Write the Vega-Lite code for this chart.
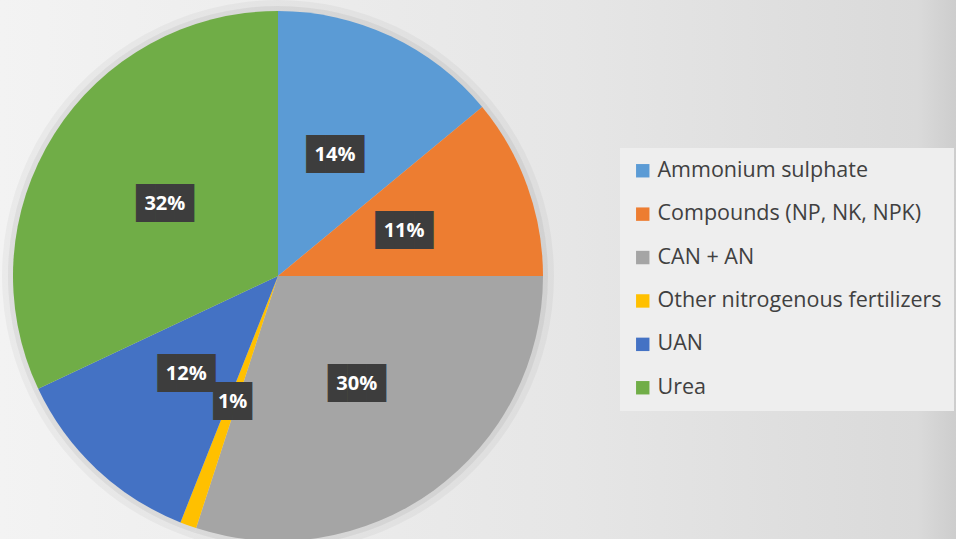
{
  "$schema": "https://vega.github.io/schema/vega-lite/v6.json",
  "width": 956,
  "height": 539,
  "autosize": "none",
  "padding": 0,
  "background": "#e8e8e8",
  "config": {"view": {"stroke": null}},
  "datasets": {
    "shares": [
      {"idx": 1, "type": "Ammonium sulphate", "share": 14, "label": "14%"},
      {"idx": 2, "type": "Compounds (NP, NK, NPK)", "share": 11, "label": "11%"},
      {"idx": 3, "type": "CAN + AN", "share": 30, "label": "30%"},
      {"idx": 4, "type": "Other nitrogenous fertilizers", "share": 1, "label": "1%"},
      {"idx": 5, "type": "UAN", "share": 12, "label": "12%"},
      {"idx": 6, "type": "Urea", "share": 32, "label": "32%"}
    ]
  },
  "layer": [
    {
      "data": {"values": [{}]},
      "mark": {
        "type": "rect", "x": 0, "x2": 956, "y": 0, "y2": 539,
        "fill": {"gradient": "linear", "x1": 0, "x2": 1, "y1": 0, "y2": 0,
          "stops": [
            {"offset": 0, "color": "#f3f3f3"},
            {"offset": 0.6, "color": "#e6e6e6"},
            {"offset": 0.96, "color": "#dadada"},
            {"offset": 1, "color": "#cdcdcd"}
          ]}
      },
      "encoding": {}
    },
    {
      "data": {"name": "shares"},
      "mark": {"type": "arc", "x": 278, "y": 276, "radius": 276, "fill": "#000000", "opacity": 0.035, "stroke": null},
      "encoding": {
        "theta": {"field": "share", "type": "quantitative", "stack": true},
        "order": {"field": "idx", "type": "quantitative"}
      }
    },
    {
      "data": {"name": "shares"},
      "mark": {"type": "arc", "x": 278, "y": 276, "radius": 270, "fill": "#000000", "opacity": 0.05, "stroke": null},
      "encoding": {
        "theta": {"field": "share", "type": "quantitative", "stack": true},
        "order": {"field": "idx", "type": "quantitative"}
      }
    },
    {
      "data": {"name": "shares"},
      "mark": {"type": "arc", "x": 278, "y": 276, "radius": 265, "stroke": null},
      "encoding": {
        "theta": {"field": "share", "type": "quantitative", "stack": true},
        "order": {"field": "idx", "type": "quantitative"},
        "color": {
          "field": "type", "type": "nominal",
          "scale": {
            "domain": ["Ammonium sulphate", "Compounds (NP, NK, NPK)", "CAN + AN", "Other nitrogenous fertilizers", "UAN", "Urea"],
            "range": ["#5B9BD5", "#ED7D31", "#A5A5A5", "#FFC000", "#4472C4", "#70AD47"]
          },
          "legend": {
            "title": null,
            "orient": "none",
            "legendX": 620,
            "legendY": 148,
            "fillColor": "#eeeeee",
            "padding": 12,
            "symbolType": "square",
            "symbolSize": 180,
            "symbolStrokeWidth": 0,
            "labelFont": "Open Sans",
            "labelFontSize": 21.5,
            "labelColor": "#404040",
            "labelLimit": 400,
            "labelOffset": 4,
            "rowPadding": 20.4
          }
        }
      }
    },
    {
      "data": {"name": "shares"},
      "mark": {"type": "text", "x": 278, "y": 276, "radius": 134, "font": "DejaVu Sans Mono", "fontSize": 32, "fill": "#3d3d3d", "align": "center", "baseline": "middle"},
      "encoding": {
        "theta": {"field": "share", "type": "quantitative", "stack": true},
        "order": {"field": "idx", "type": "quantitative"},
        "text": {"condition": {"test": "datum.share < 10", "value": "██"}, "value": "███"}
      }
    },
    {
      "data": {"name": "shares"},
      "mark": {"type": "text", "x": 278, "y": 276, "radius": 134, "font": "Open Sans", "fontSize": 20, "fontWeight": "bold", "fill": "#ffffff", "align": "center", "baseline": "middle"},
      "encoding": {
        "theta": {"field": "share", "type": "quantitative", "stack": true},
        "order": {"field": "idx", "type": "quantitative"},
        "text": {"field": "label", "type": "nominal"}
      }
    }
  ]
}
